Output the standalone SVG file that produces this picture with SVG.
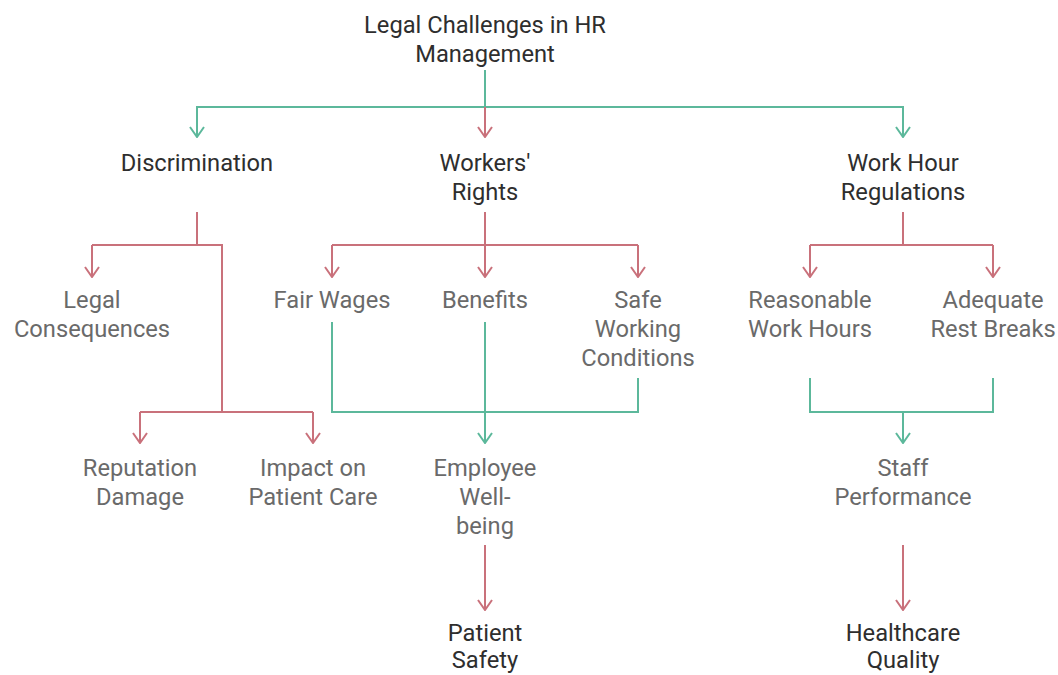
<svg xmlns="http://www.w3.org/2000/svg" width="1058" height="675" viewBox="0 0 1058 675">
  <defs>
    <marker id="arrow-green" viewBox="0 0 12 16" refX="11" refY="8" markerWidth="12" markerHeight="16" markerUnits="userSpaceOnUse" orient="auto">
      <path d="M1,1 L11,8 L1,15" fill="none" stroke="#5cb89b" stroke-width="2"/>
    </marker>
    <marker id="arrow-red" viewBox="0 0 12 16" refX="11" refY="8" markerWidth="12" markerHeight="16" markerUnits="userSpaceOnUse" orient="auto">
      <path d="M1,1 L11,8 L1,15" fill="none" stroke="#c9717b" stroke-width="2"/>
    </marker>
    <style>
      text { font-family: Roboto, "Liberation Sans", sans-serif; font-size: 23.7px; text-anchor: middle; }
      .main { fill: #2e2e2e; }
      .leaf { fill: #6a6a6a; }
      .g { fill: none; stroke: #5cb89b; stroke-width: 2; }
      .r { fill: none; stroke: #c9717b; stroke-width: 2; }
      .ga { marker-end: url(#arrow-green); }
      .ra { marker-end: url(#arrow-red); }
    </style>
  </defs>
  <rect width="1058" height="675" fill="#ffffff"/>

  <g id="connectors">
    <!-- root fan-out -->
    <path class="g" d="M485,70 V107"/>
    <path class="g" d="M197,137 V107 H903 V137"/>
    <path class="g ga" d="M197,107 V137"/>
    <path class="g ga" d="M903,107 V137"/>
    <path class="r ra" d="M485,107 V137"/>

    <!-- Discrimination -->
    <path class="r" d="M197,212 V245 M92,245 H222 V412 M140,412 H313"/>
    <path class="r ra" d="M92,245 V277"/>
    <path class="r ra" d="M140,412 V443"/>
    <path class="r ra" d="M313,412 V443"/>

    <!-- Workers' Rights -->
    <path class="r" d="M332,245 H638"/>
    <path class="r ra" d="M485,212 V277"/>
    <path class="r ra" d="M332,245 V277"/>
    <path class="r ra" d="M638,245 V277"/>

    <!-- Work Hour Regulations -->
    <path class="r" d="M903,212 V245 M810,245 H993"/>
    <path class="r ra" d="M810,245 V277"/>
    <path class="r ra" d="M993,245 V277"/>

    <!-- merge into Employee Well-being -->
    <path class="g" d="M332,322 V412 H638 V378"/>
    <path class="g ga" d="M485,322 V443"/>

    <!-- merge into Staff Performance -->
    <path class="g" d="M810,378 V412 H993 V378"/>
    <path class="g ga" d="M903,412 V443"/>

    <!-- outcomes -->
    <path class="r ra" d="M485,545 V610"/>
    <path class="r ra" d="M903,545 V610"/>
  </g>

  <g id="node-root"><text class="main" x="485" y="33">Legal Challenges in HR</text><text class="main" x="485" y="62">Management</text></g>
  <g id="node-discrimination"><text class="main" x="197" y="171">Discrimination</text></g>
  <g id="node-workers-rights"><text class="main" x="485" y="171">Workers'</text><text class="main" x="485" y="200">Rights</text></g>
  <g id="node-work-hour-regulations"><text class="main" x="903" y="171">Work Hour</text><text class="main" x="903" y="200">Regulations</text></g>

  <g id="node-legal-consequences"><text class="leaf" x="92" y="308">Legal</text><text class="leaf" x="92" y="337">Consequences</text></g>
  <g id="node-fair-wages"><text class="leaf" x="332" y="308">Fair Wages</text></g>
  <g id="node-benefits"><text class="leaf" x="485" y="308">Benefits</text></g>
  <g id="node-safe-working-conditions"><text class="leaf" x="638" y="308">Safe</text><text class="leaf" x="638" y="337">Working</text><text class="leaf" x="638" y="366">Conditions</text></g>
  <g id="node-reasonable-work-hours"><text class="leaf" x="810" y="308">Reasonable</text><text class="leaf" x="810" y="337">Work Hours</text></g>
  <g id="node-adequate-rest-breaks"><text class="leaf" x="993" y="308">Adequate</text><text class="leaf" x="993" y="337">Rest Breaks</text></g>

  <g id="node-reputation-damage"><text class="leaf" x="140" y="476">Reputation</text><text class="leaf" x="140" y="505">Damage</text></g>
  <g id="node-impact-on-patient-care"><text class="leaf" x="313" y="476">Impact on</text><text class="leaf" x="313" y="505">Patient Care</text></g>
  <g id="node-employee-well-being"><text class="leaf" x="485" y="476">Employee</text><text class="leaf" x="485" y="505">Well-</text><text class="leaf" x="485" y="534">being</text></g>
  <g id="node-staff-performance"><text class="leaf" x="903" y="476">Staff</text><text class="leaf" x="903" y="505">Performance</text></g>

  <g id="node-patient-safety"><text class="main" x="485" y="641">Patient</text><text class="main" x="485" y="668">Safety</text></g>
  <g id="node-healthcare-quality"><text class="main" x="903" y="641">Healthcare</text><text class="main" x="903" y="668">Quality</text></g>
</svg>
